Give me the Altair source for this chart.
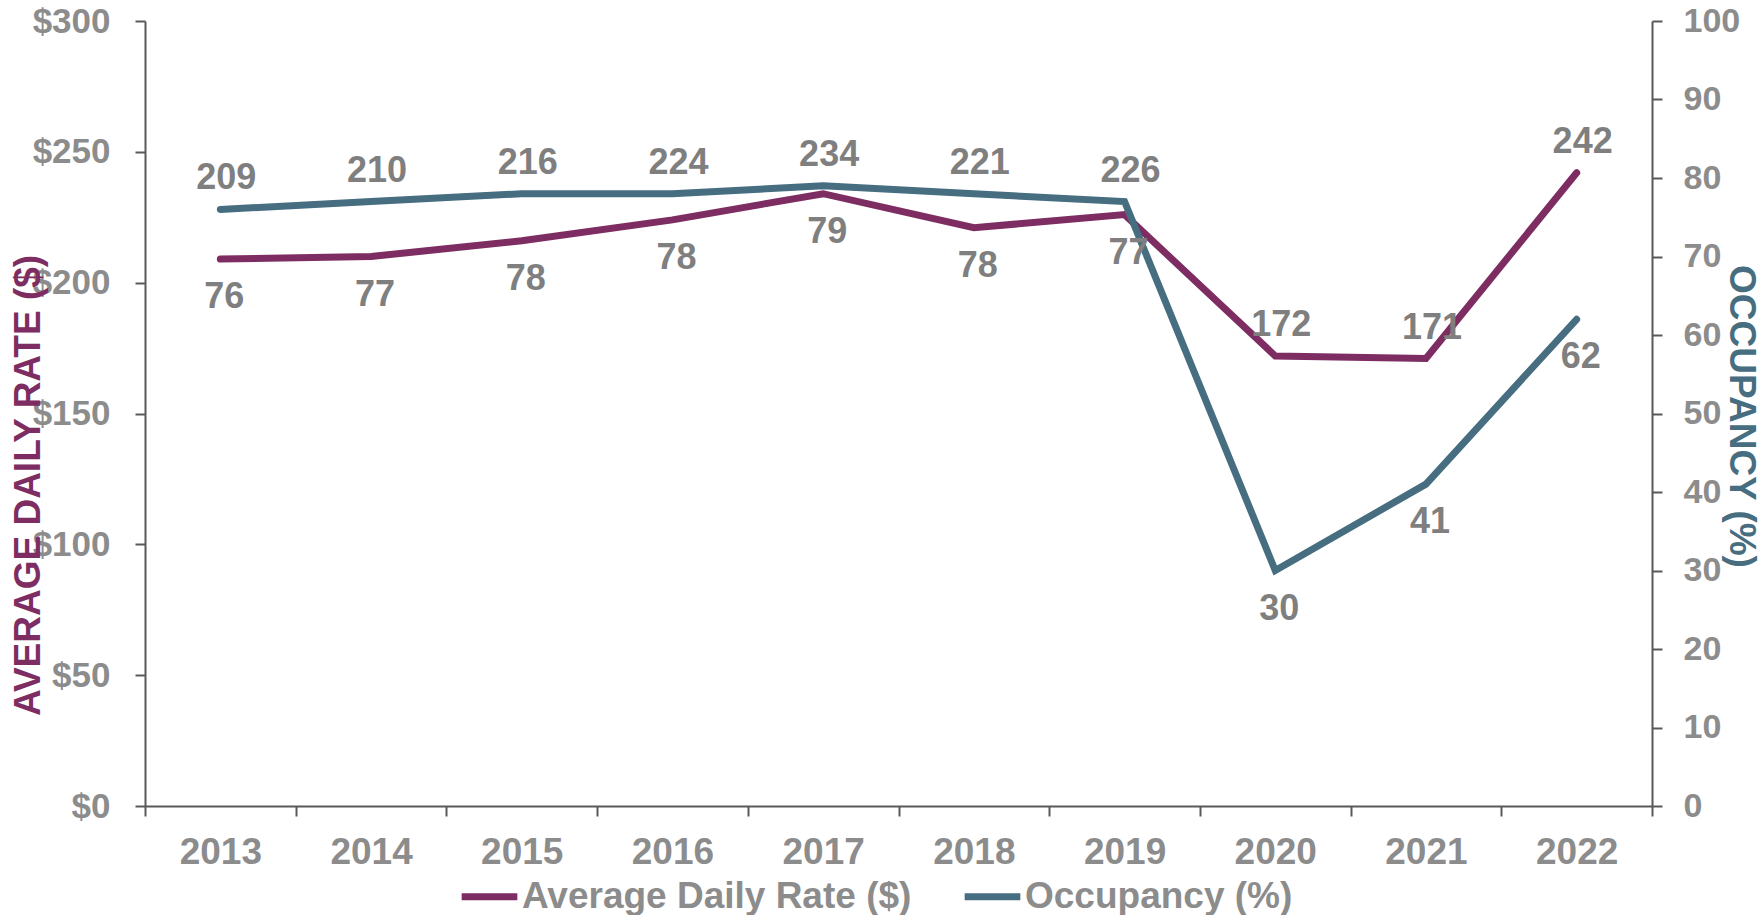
import altair as alt
import pandas as pd

years = ["2013", "2014", "2015", "2016", "2017", "2018", "2019", "2020", "2021", "2022"]
adr = [209, 210, 216, 224, 234, 221, 226, 172, 171, 242]
occ = [76, 77, 78, 78, 79, 78, 77, 30, 41, 62]
adr_ticks = [0, 50, 100, 150, 200, 250, 300]
occ_ticks = [0, 10, 20, 30, 40, 50, 60, 70, 80, 90, 100]
series_names = ["Average Daily Rate ($)", "Occupancy (%)"]
series_colors = ["#7D2D62", "#466E80"]

df = pd.DataFrame({"year": years, "adr": adr, "occ": occ})

FONT = "Liberation Sans"
AXIS_GRAY = "#595959"
LABEL_GRAY = "#8C8C8C"
DATA_GRAY = "#7F7F7F"

x_axis = alt.Axis(
    title=None, tickBand="extent", labelAngle=0, labelFont=FONT, labelFontSize=37,
    labelFontWeight="bold", labelColor=LABEL_GRAY, labelPadding=18, tickSize=10,
    tickWidth=2, tickColor=AXIS_GRAY, domainColor=AXIS_GRAY, domainWidth=2, grid=False,
)
x_enc = alt.X("year:O", bandPosition=0.5,
              scale=alt.Scale(type="band", paddingInner=0, paddingOuter=0),
              axis=x_axis)

left_axis = alt.Axis(
    values=adr_ticks, format="$,.0f", title="AVERAGE DAILY RATE ($)", titleAngle=270,
    titleX=-117, titleY=464, titleAlign="center", titleBaseline="middle",
    titleFont=FONT, titleFontSize=37, titleFontWeight="bold", titleColor=series_colors[0],
    labelFont=FONT, labelFontSize=35, labelFontWeight="bold", labelColor=LABEL_GRAY,
    labelPadding=25, tickSize=10, tickWidth=2, tickColor=AXIS_GRAY,
    domainColor=AXIS_GRAY, domainWidth=2, grid=False,
)
right_axis = alt.Axis(
    orient="right", values=occ_ticks, title="OCCUPANCY (%)", titleAngle=90,
    titleX=88, titleY=395, titleAlign="center", titleBaseline="middle",
    titleFont=FONT, titleFontSize=37, titleFontWeight="bold", titleColor=series_colors[1],
    labelFont=FONT, labelFontSize=34, labelFontWeight="bold", labelColor=LABEL_GRAY,
    labelPadding=21, tickSize=10, tickWidth=2, tickColor=AXIS_GRAY,
    domainColor=AXIS_GRAY, domainWidth=2, grid=False,
)
left_scale = alt.Scale(domain=[0, 300], nice=False, zero=True)
right_scale = alt.Scale(domain=[0, 100], nice=False, zero=True)

color_enc = alt.Color(
    "series:N",
    scale=alt.Scale(domain=series_names, range=series_colors),
    legend=alt.Legend(title=None),
)

base = alt.Chart().transform_calculate(
    adr_top="max(datum.adr, datum.occ * 3)",
    occ_bot="min(datum.adr / 3, datum.occ)",
)

adr_line = base.mark_line(strokeWidth=7, strokeCap="round").transform_calculate(
    series="'" + series_names[0] + "'"
).encode(x=x_enc, y=alt.Y("adr:Q", scale=left_scale, axis=left_axis), color=color_enc)

adr_text = base.mark_text(
    font=FONT, fontSize=36, fontWeight="bold", color=DATA_GRAY, baseline="middle",
    dy=-31, dx=6
).encode(x=x_enc, y=alt.Y("adr_top:Q", scale=left_scale, axis=left_axis),
         text=alt.Text("adr:Q", format="d"))

occ_line = base.mark_line(strokeWidth=7, strokeCap="round").transform_calculate(
    series="'" + series_names[1] + "'"
).encode(x=x_enc, y=alt.Y("occ:Q", scale=right_scale, axis=right_axis), color=color_enc)

occ_text = base.mark_text(
    font=FONT, fontSize=36, fontWeight="bold", color=DATA_GRAY, baseline="middle",
    dy=38, dx=4
).encode(x=x_enc, y=alt.Y("occ_bot:Q", scale=right_scale, axis=right_axis),
         text=alt.Text("occ:Q", format="d"))

left = alt.layer(adr_line, adr_text)
right = alt.layer(occ_line, occ_text)

chart = (
    alt.layer(left, right, data=df)
    .resolve_scale(y="independent")
    .properties(
        width=1507, height=785,
        autosize=alt.AutoSizeParams(type="none"),
        padding={"left": 145, "top": 21, "right": 109, "bottom": 109},
        background="white",
    )
    .configure_view(stroke=None)
    .configure_legend(
        orient="none", legendX=313, legendY=844, direction="horizontal",
        labelFont=FONT, labelFontSize=37, labelFontWeight="bold", labelColor=LABEL_GRAY,
        symbolType="stroke", symbolStrokeWidth=7, symbolSize=3100, labelOffset=1,
        columnPadding=38, padding=0, labelLimit=600,
    )
)

chart.save("out.html", embed_options={"renderer": "svg", "actions": False})
